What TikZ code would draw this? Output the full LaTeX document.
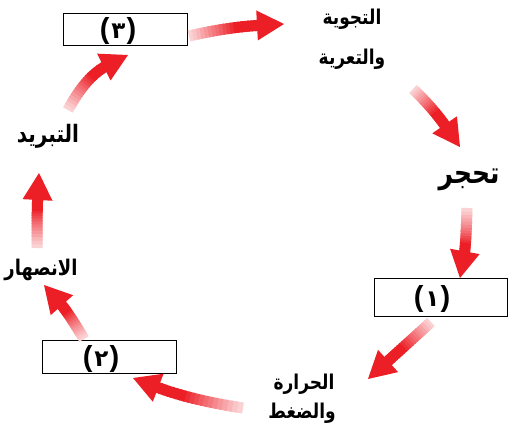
\documentclass[tikz,border=0pt]{standalone}
\usepackage{fontspec}
\usepackage{graphicx}
\usetikzlibrary{calc}
\TeXXeTstate=1
\newfontfamily\arabicfont[Script=Arabic]{DejaVu Sans}
\newfontfamily\parenfont{Liberation Sans}
\definecolor{arrred}{RGB}{236,30,38}
\tikzset{
  shaftline/.style={line width=11pt, line cap=butt},
  numbox/.style={draw=black, line width=0.9pt, fill=white, inner sep=0pt},
  arlbl/.style={inner sep=0pt},
  numlbl/.style={inner sep=0pt}
}
\newcommand\gradarrow[3]{%
  \coordinate (#3-base) at ($(#3)!23pt!(#2)$);
  \coordinate (#3-hb) at ($(#3)!27pt!(#2)$);
  \foreach \i in {0,...,19}{%
    \pgfmathsetmacro\ta{\i/20}%
    \pgfmathsetmacro\tb{min((\i+1.5)/20,1)}%
    \pgfmathsetmacro\pc{int(20+80*min(1,\i/12))}%
    \draw[shaftline, draw=arrred!\pc!white]
      ($($(#1)!\ta!(#2)$)!\ta!($(#2)!\ta!(#3-base)$)$) --
      ($($(#1)!\tb!(#2)$)!\tb!($(#2)!\tb!(#3-base)$)$);
  }%
  \fill[arrred] (#3) -- ($(#3-hb)!15pt!90:(#3)$) -- ($(#3-hb)!15pt!-90:(#3)$) -- cycle;
}
\newcommand\boxnum[1]{{\fontsize{29}{30}\selectfont\parenfont\bfseries(}\hspace{2pt}{\fontsize{23}{24}\selectfont\arabicfont\bfseries #1}\hspace{1pt}{\fontsize{29}{30}\selectfont\parenfont\bfseries)}}
\newcommand\artext[2]{\scalebox{1}[1.2]{\fontsize{#1}{#1}\selectfont\arabicfont\bfseries\beginR #2\endR}}
\begin{document}
\begin{tikzpicture}[x=1pt, y=-1pt]
\useasboundingbox (0,0) rectangle (520,431);
\fill[white] (0,0) rectangle (520,431);

% boxes
\node[numbox, minimum width=124pt, minimum height=32pt] (b3) at (125,29) {};
\node[numbox, minimum width=133pt, minimum height=38pt] (b1) at (440.5,297) {};
\node[numbox, minimum width=134pt, minimum height=33pt] (b2) at (109,356.5) {};
\node[numlbl] (n3) at (118,31) {\boxnum{٣}};
\node[numlbl] (n1) at (432,299) {\boxnum{١}};
\node[numlbl] (n2) at (101,359) {\boxnum{٢}};

% labels
\node[arlbl] (t1a) at (352,19) {\artext{17}{التجوية}};
\node[arlbl] (t1b) at (352,59) {\artext{17}{والتعرية}};
\node[arlbl] (t2) at (469,180) {\artext{25}{تحجر}};
\node[arlbl] (t3a) at (304,384) {\artext{17}{الحرارة}};
\node[arlbl] (t3b) at (302,413) {\artext{17}{والضغط}};
\node[arlbl] (t4) at (41,270) {\artext{18}{الانصهار}};
\node[arlbl] (t5) at (48,136) {\artext{20}{التبريد}};

% arrow coordinates
\coordinate (a1s) at (189,36);  \coordinate (a1c) at (228,27);  \coordinate (a1e) at (284,24);
\coordinate (a2s) at (413,89);  \coordinate (a2c) at (433,108); \coordinate (a2e) at (460,147);
\coordinate (a3s) at (467,208); \coordinate (a3c) at (466,245); \coordinate (a3e) at (460,278);
\coordinate (a4s) at (431,322); \coordinate (a4c) at (408,343); \coordinate (a4e) at (368,379);
\coordinate (a5s) at (243,408); \coordinate (a5c) at (190,400); \coordinate (a5e) at (133,378);
\coordinate (a6s) at (84,339);  \coordinate (a6c) at (68,312);  \coordinate (a6e) at (44,285);
\coordinate (a7s) at (37,248);  \coordinate (a7c) at (37,210);  \coordinate (a7e) at (39,173);
\coordinate (a8s) at (68,110);  \coordinate (a8c) at (86,76);   \coordinate (a8e) at (128,55);

\gradarrow{a1s}{a1c}{a1e}
\gradarrow{a2s}{a2c}{a2e}
\gradarrow{a3s}{a3c}{a3e}
\gradarrow{a4s}{a4c}{a4e}
\gradarrow{a5s}{a5c}{a5e}
\gradarrow{a6s}{a6c}{a6e}
\gradarrow{a7s}{a7c}{a7e}
\gradarrow{a8s}{a8c}{a8e}
\end{tikzpicture}
\end{document}
